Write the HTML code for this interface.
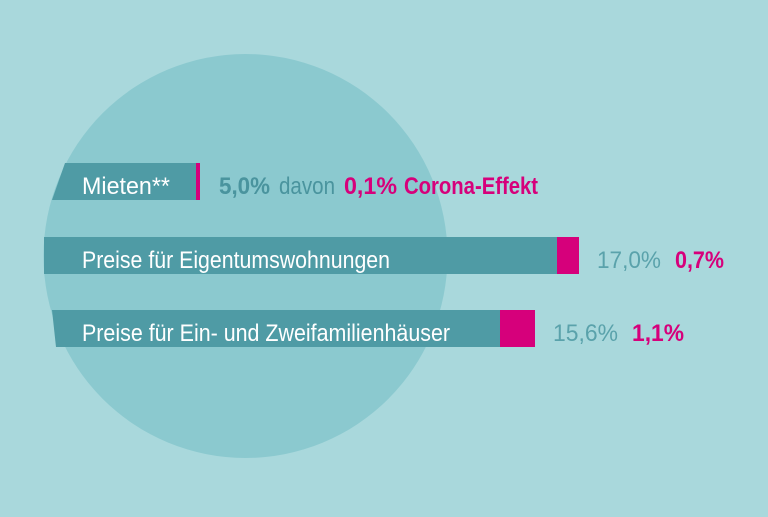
<!DOCTYPE html>
<html><head><meta charset="utf-8"><style>html,body{margin:0;padding:0;background:#a9d8dc}</style></head>
<body>
<svg width="768" height="512" viewBox="0 0 768 512" xmlns="http://www.w3.org/2000/svg" font-family="'Liberation Sans Narrow','Liberation Sans',sans-serif">
<rect width="768" height="512" fill="#a9d8dc"/>
<circle cx="245.5" cy="256" r="202" fill="#8bc9cf"/>
<polygon points="65,163 197,163 197,200 52,200" fill="#4f9ba5"/>
<rect x="196" y="163" width="4" height="37" fill="#d6007b"/>
<rect x="44" y="237" width="514" height="37" fill="#4f9ba5"/>
<rect x="557" y="237" width="22" height="37" fill="#d6007b"/>
<polygon points="52,310 500,310 500,347 56,347" fill="#4f9ba5"/>
<rect x="500" y="310" width="35" height="37" fill="#d6007b"/>
<g fill="#ffffff" font-size="24">
<text x="82" y="194" textLength="88" lengthAdjust="spacingAndGlyphs">Mieten**</text>
<text x="82" y="268" textLength="308" lengthAdjust="spacingAndGlyphs">Preise für Eigentumswohnungen</text>
<text x="82" y="341" textLength="368" lengthAdjust="spacingAndGlyphs">Preise für Ein- und Zweifamilienhäuser</text>
</g>
<g font-size="24">
<text x="219" y="194" fill="#4a949e" font-weight="bold" textLength="51" lengthAdjust="spacingAndGlyphs">5,0%</text>
<text x="279" y="194" fill="#4a949e" textLength="56" lengthAdjust="spacingAndGlyphs">davon</text>
<text x="344" y="194" fill="#d6007b" font-weight="bold" textLength="53" lengthAdjust="spacingAndGlyphs">0,1%</text>
<text x="404" y="194" fill="#d6007b" font-weight="bold" textLength="134" lengthAdjust="spacingAndGlyphs">Corona-Effekt</text>
<text x="597" y="268" fill="#5aa2ab" textLength="64" lengthAdjust="spacingAndGlyphs">17,0%</text>
<text x="675" y="268" fill="#d6007b" font-weight="bold" textLength="49" lengthAdjust="spacingAndGlyphs">0,7%</text>
<text x="553" y="341" fill="#5aa2ab" textLength="65" lengthAdjust="spacingAndGlyphs">15,6%</text>
<text x="632" y="341" fill="#d6007b" font-weight="bold" textLength="52" lengthAdjust="spacingAndGlyphs">1,1%</text>
</g>
</svg>
</body></html>
